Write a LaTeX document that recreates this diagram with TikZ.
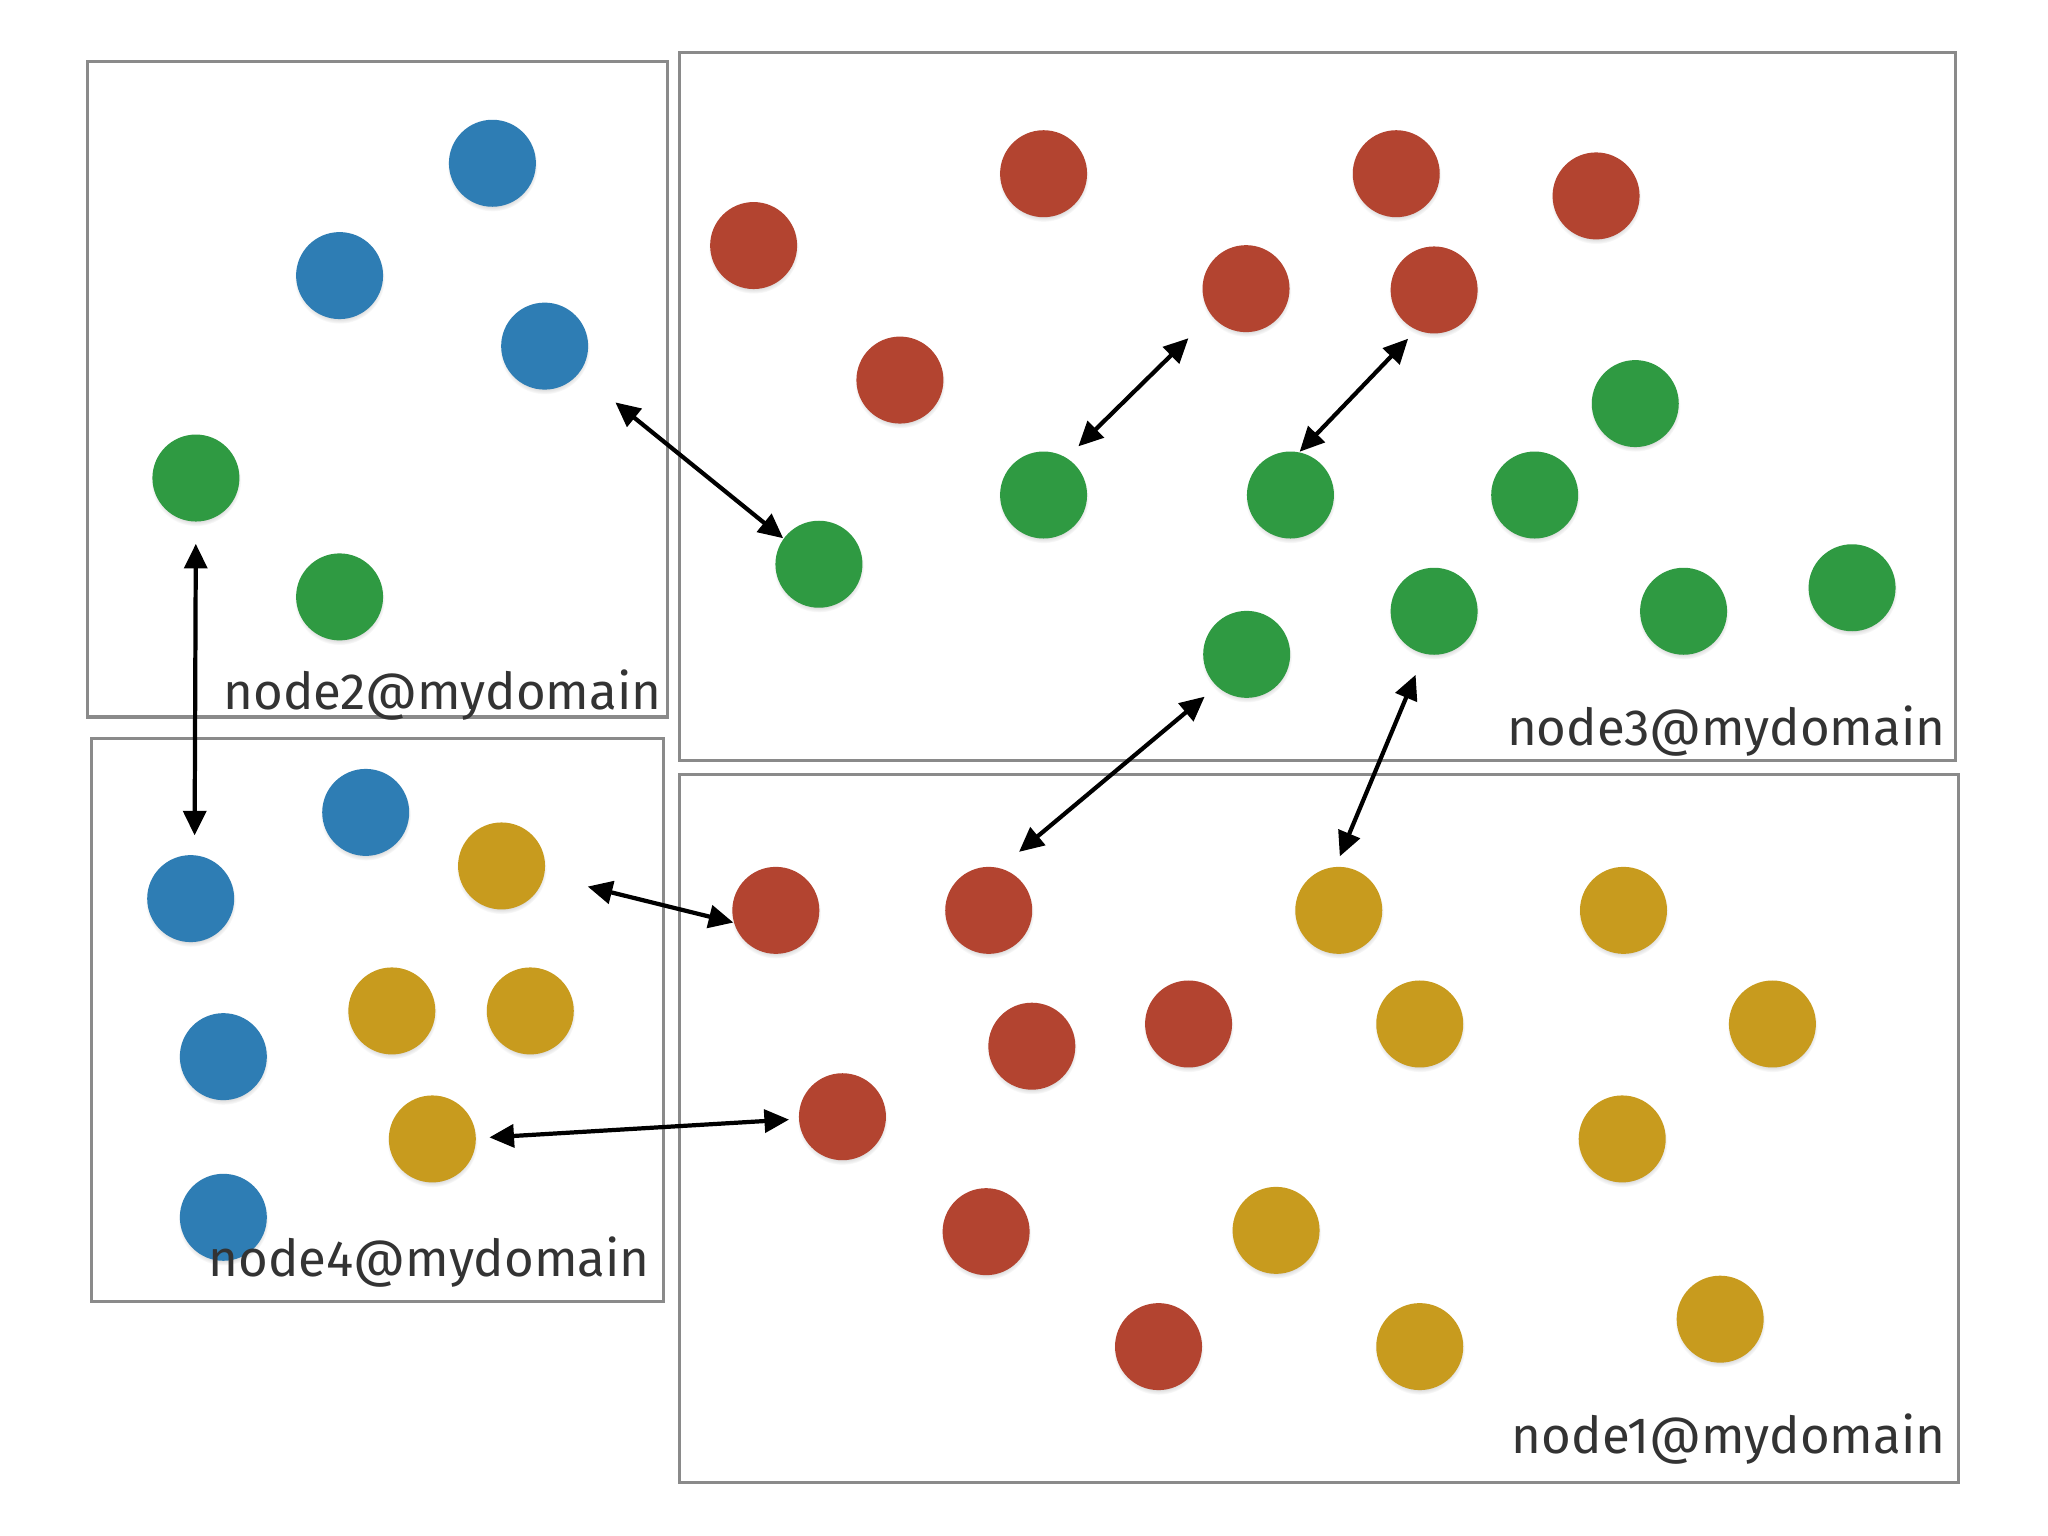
\documentclass[tikz,border=0pt]{standalone}
\usepackage{fontspec}
\setmainfont{Fira Sans}
\usetikzlibrary{arrows.meta,shadows}

\definecolor{dotblue}{HTML}{2E7DB4}
\definecolor{dotgreen}{HTML}{2F9A42}
\definecolor{dotred}{HTML}{B34430}
\definecolor{dotyellow}{HTML}{C89B1E}
\definecolor{boxgray}{HTML}{8A8A8A}
\definecolor{textgray}{HTML}{333333}

\tikzset{
  ball/.style={circle, fill=#1, minimum size=0.87cm, inner sep=0pt,
    circular drop shadow={shadow xshift=0pt, shadow yshift=-0.8pt, shadow scale=1.04, opacity=0.35}},
  domainbox/.style={draw=boxgray, line width=0.95pt},
  hostname/.style={anchor=base east, inner sep=0pt, text=textgray,
    font=\fontsize{14.5}{17}\selectfont},
  link/.style={line width=1.2pt,
    {Triangle[length=7pt,width=6.5pt]}-{Triangle[length=7pt,width=6.5pt]}},
}

\begin{document}
\begin{tikzpicture}[x=0.013061cm, y=-0.013061cm]
    \useasboundingbox (0,0) rectangle (1568,1176);
    \fill[white] (0,0) rectangle (1568,1176);

    % node2
    \draw[domainbox] (67,47) rectangle (511,549);
    \node[ball=dotblue] (b1) at (377,125) {};
    \node[ball=dotblue] (b2) at (260,211) {};
    \node[ball=dotblue] (b3) at (417,265) {};
    \node[ball=dotgreen] (g1) at (150,366) {};
    \node[ball=dotgreen] (g2) at (260,457) {};
    \node[hostname] (host2) at (507,543.5) {node2@mydomain};

    % node3
    \draw[domainbox] (520,40) rectangle (1497,582.5);
    \node[ball=dotred] (r1) at (577,188) {};
    \node[ball=dotred] (r2) at (799,133) {};
    \node[ball=dotred] (r3) at (1069,133) {};
    \node[ball=dotred] (r4) at (1222,150) {};
    \node[ball=dotred] (r5) at (954,221) {};
    \node[ball=dotred] (r6) at (1098,222) {};
    \node[ball=dotred] (r7) at (689,291) {};
    \node[ball=dotgreen] (g3) at (1252,309) {};
    \node[ball=dotgreen] (g4) at (799,379) {};
    \node[ball=dotgreen] (g5) at (988,379) {};
    \node[ball=dotgreen] (g6) at (1175,379) {};
    \node[ball=dotgreen] (g7) at (627,432) {};
    \node[ball=dotgreen] (g8) at (1098,468) {};
    \node[ball=dotgreen] (g9) at (1289,468) {};
    \node[ball=dotgreen] (g10) at (1418,450) {};
    \node[ball=dotgreen] (g11) at (954.5,501) {};
    \node[hostname] (host3) at (1490,570.5) {node3@mydomain};

    % node4
    \draw[domainbox] (70,565.5) rectangle (508,996.5);
    \node[ball=dotblue] (b4) at (280,622) {};
    \node[ball=dotblue] (b5) at (146,688) {};
    \node[ball=dotblue] (b6) at (171,809) {};
    \node[ball=dotblue] (b7) at (171,932) {};
    \node[ball=dotyellow] (y1) at (384,663) {};
    \node[ball=dotyellow] (y2) at (300,774) {};
    \node[ball=dotyellow] (y3) at (406,774) {};
    \node[ball=dotyellow] (y4) at (331,872) {};
    \node[hostname] (host4) at (498,977.5) {node4@mydomain};

    % node1
    \draw[domainbox] (520,593) rectangle (1499.5,1135);
    \node[ball=dotred] (r8) at (594,697) {};
    \node[ball=dotred] (r9) at (757,697) {};
    \node[ball=dotred] (r10) at (790,801) {};
    \node[ball=dotred] (r11) at (910,784) {};
    \node[ball=dotred] (r12) at (645,855) {};
    \node[ball=dotred] (r13) at (755,943) {};
    \node[ball=dotred] (r14) at (887,1031) {};
    \node[ball=dotyellow] (y5) at (1025,697) {};
    \node[ball=dotyellow] (y6) at (1243,697) {};
    \node[ball=dotyellow] (y7) at (1087,784) {};
    \node[ball=dotyellow] (y8) at (1357,784) {};
    \node[ball=dotyellow] (y9) at (1242,872) {};
    \node[ball=dotyellow] (y10) at (977,942) {};
    \node[ball=dotyellow] (y11) at (1087,1031) {};
    \node[ball=dotyellow] (y12) at (1317,1010) {};
    \node[hostname] (host1) at (1490,1112.5) {node1@mydomain};

    % links between processes
    \draw[link, shorten <=0.462cm] (b3.322) -- (g7.144);
    \draw[link, shorten <=0.159cm, shorten >=0.319cm] (g4.58) -- (r5.218);
    \draw[link, shorten >=0.116cm] (g5.78) -- (r6.246);
    \draw[link, shorten <=0.216cm, shorten >=0.191cm] (g1.270) -- (b5.85);
    \draw[link, shorten <=0.246cm, shorten >=0.155cm] (r9.75) -- (g11.227);
    \draw[link, shorten <=0.107cm, shorten >=0.222cm] (y5.94) -- (g8.257);
    \draw[link, shorten <=0.444cm] (y1.347) -- (r8.196);
    \draw[link, shorten <=0.129cm, shorten >=0.093cm] (y4.1) -- (r12.183);
\end{tikzpicture}
\end{document}
